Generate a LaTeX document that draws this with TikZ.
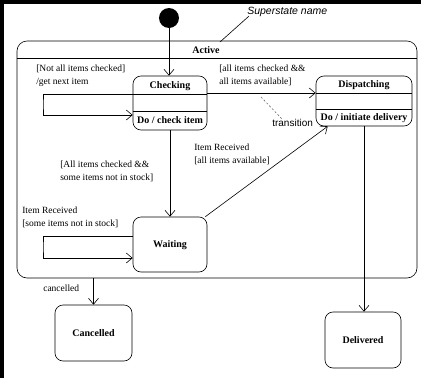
\documentclass[tikz,border=0pt]{standalone}
\usepackage{fontspec}
\setmainfont{Liberation Serif}
\setsansfont{Liberation Sans}
\usetikzlibrary{arrows.meta}
\begin{document}
\begin{tikzpicture}
[
    x=1pt, y=-1pt,
    line width=0.6pt,
    >={Straight Barb[length=6pt,width=10pt]},
    state/.style={draw, rounded corners=8pt, inner sep=0pt},
    statename/.style={font=\bfseries\fontsize{10}{12}\selectfont, inner sep=1pt},
    guard/.style={font=\fontsize{9.5}{13}\selectfont, align=left, inner sep=0pt, anchor=north west},
    note/.style={font=\sffamily\fontsize{10}{12}\selectfont, inner sep=0pt}
]
    \useasboundingbox (0,0) rectangle (421,378);
    \fill[black] (0,0) rectangle (421,4);
    \fill[black] (0,0) rectangle (4,378);

    \node [state, rounded corners=10pt, minimum width=400pt, minimum height=237pt] (act) at (217,159.5) {};
    \draw (act.west |- 0,58) -- (act.east |- 0,58);
    \node [statename] (actname) at (206,50) {Active};

    \node [circle, fill=black, minimum size=20pt, inner sep=0pt] (init) at (169,18) {};

    \node [state, minimum width=74pt, minimum height=54pt] (chk) at (170,103) {};
    \draw (chk.west |- 0,94) -- (chk.east |- 0,94);
    \draw (chk.west |- 0,111) -- (chk.east |- 0,111);
    \node [statename] (chkname) at (170,86) {Checking};
    \node [statename] (chkdo) at (170,120) {Do / check item};

    \node [state, minimum width=96pt, minimum height=50pt] (disp) at (364,101) {};
    \draw (disp.west |- 0,93) -- (disp.east |- 0,93);
    \draw (disp.west |- 0,109) -- (disp.east |- 0,109);
    \node [statename] (dispname) at (364,85) {Dispatching};
    \node [statename] (dispdo) at (364,118) {Do / initiate delivery};

    \node [state, minimum width=74pt, minimum height=55pt] (wait) at (170,244.5) {};
    \node [statename] (waitname) at (170,245) {Waiting};

    \node [state, minimum width=77pt, minimum height=56pt] (canc) at (93.5,333) {};
    \node [statename] (cancname) at (93.5,333) {Cancelled};

    \node [state, minimum width=76pt, minimum height=56pt] (deliv) at (363,340) {};
    \node [statename] (delivname) at (363,340) {Delivered};

    \coordinate (chkloop) at (43,104);
    \coordinate (waitloop) at (43,247);
    \coordinate (supend) at (220,42);
    \coordinate (trpt) at (261,97);

    \draw [->] (init.south) -- (init.south |- chk.north);
    \draw [->] (chk.west |- 0,94) -| (chkloop) |- (chk.west |- 0,115);
    \draw [->] (chk.east |- 0,93) -- (disp.west |- 0,93);
    \draw [->] (chk.south) -- (wait.north);
    \draw [->] (wait.west |- 0,236) -| (waitloop) |- (wait.west |- 0,258);
    \draw [->] ([xshift=-2pt]wait.north east) -- ([xshift=12pt]disp.south west);
    \draw [->] (disp.south) -- (disp.south |- deliv.north);
    \draw [->] (act.south -| canc.north) -- (canc.north);

    \node [guard] (chkguard) at (36,65) {[Not all items checked]\\/get next item};
    \node [guard] (dispguard) at (219,65) {[all items checked \&\&\\all items available]};
    \node [guard] (waitguard) at (60,161) {[All items checked \&\&\\some items not in stock]};
    \node [guard] (waitrecv) at (22,207) {Item Received\\{[some items not in stock]}};
    \node [guard] (disprecv) at (194,144) {Item Received\\{[all items available]}};
    \node [guard] (cancguard) at (43,285) {cancelled};

    \node [note, anchor=west] (trlbl) at (272,123) {transition};
    \draw [dash pattern=on 2pt off 2pt, draw=black!60] (trpt) -- ([xshift=11pt,yshift=-1pt]trlbl.north west);

    \node [note, font=\sffamily\itshape\fontsize{10.5}{12}\selectfont, anchor=west] (supnm) at (247,12) {Superstate name};
    \draw ([xshift=2pt,yshift=1pt]supnm.south west) -- (supend);
\end{tikzpicture}
\end{document}
